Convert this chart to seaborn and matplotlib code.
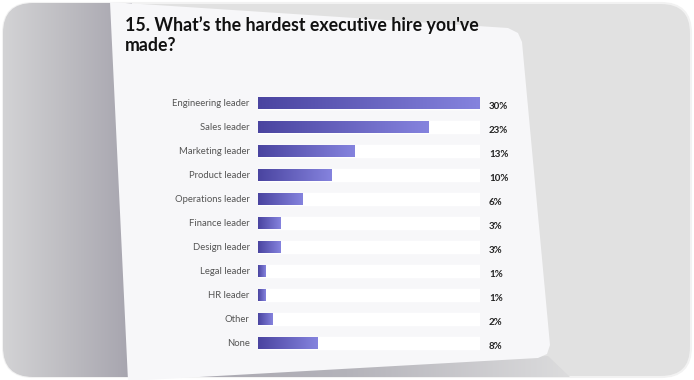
import matplotlib
matplotlib.use('Agg')
import matplotlib.pyplot as plt
import seaborn as sns
import pandas as pd
import numpy as np
from matplotlib.patches import Polygon, FancyBboxPatch
from matplotlib.colors import LinearSegmentedColormap

# Survey answers
categories = ['Engineering leader', 'Sales leader', 'Marketing leader', 'Product leader',
              'Operations leader', 'Finance leader', 'Design leader', 'Legal leader',
              'HR leader', 'Other', 'None']
values = [30, 23, 13, 10, 6, 3, 3, 1, 1, 2, 8]
value_labels = ['30%', '23%', '13%', '10%', '6%', '3%', '3%', '1%', '1%', '2%', '8%']
title_lines = ["15. What\u2019s the hardest executive hire you've", "made?"]

df = pd.DataFrame({'category': categories, 'value': values})
df['track'] = max(values)

sns.set_theme(style='white')
plt.rcParams['font.family'] = ['Lato', 'DejaVu Sans']

W, H = 694, 380
fig = plt.figure(figsize=(W / 100, H / 100), dpi=100)
fig.patch.set_facecolor('white')

# background card scene in pixel coordinates
bg = fig.add_axes([0, 0, 1, 1])
bg.set_xlim(0, W)
bg.set_ylim(H, 0)
bg.axis('off')

frame = FancyBboxPatch((3, 3), W - 6, H - 6, boxstyle='round,pad=0,rounding_size=30',
                       facecolor='#e1e1e1', edgecolor='#f2f2f2', lw=1.5, zorder=1)
bg.add_patch(frame)

grad = np.linspace(0, 1, 256).reshape(1, -1)

# shadow left of the card
shade = LinearSegmentedColormap.from_list('shade', ['#d3d3d5', '#bdbcc1', '#a6a4ae'])
im = bg.imshow(grad, extent=[3, 132, H - 3, 3], cmap=shade, aspect='auto', zorder=2)
im.set_clip_path(frame)

# shadow below the card
wedge = Polygon([(125, 377), (548, 356), (570, 377)], closed=True, transform=bg.transData)
wedge_cmap = LinearSegmentedColormap.from_list('w', ['#a6a4ae', '#b4b3ba', '#dcdcdd'])
im3 = bg.imshow(grad, extent=[125, 570, H, 355], cmap=wedge_cmap, aspect='auto', zorder=2)
im3.set_clip_path(wedge)
bg.set_xlim(0, W)
bg.set_ylim(H, 0)

card = Polygon([(110, 2), (508, 28), (518, 33), (522, 42), (550, 345), (547, 354),
                (538, 358), (128, 381), (128, 381)], closed=True,
               facecolor='#f7f7f9', edgecolor='none', zorder=3)
bg.add_patch(card)
bg.text(125, 31, title_lines[0], fontsize=12.8, fontweight='bold', color='#111111',
        va='baseline', ha='left', zorder=4)
bg.text(125, 51, title_lines[1], fontsize=12.8, fontweight='bold', color='#111111',
        va='baseline', ha='left', zorder=4)

# bar chart
left, right = 258, 480
top, bottom = 91, 355
ax = fig.add_axes([left / W, 1 - bottom / H, (right - left) / W, (bottom - top) / H])
ax.patch.set_alpha(0)
sns.barplot(data=df, x='track', y='category', color='white', width=0.52, ax=ax)
n_track = len(ax.patches)
sns.barplot(data=df, x='value', y='category', color='#5c56b8', width=0.52, ax=ax)
ax.set_xlim(0, max(values))
ylim = ax.get_ylim()

bar_cmap = LinearSegmentedColormap.from_list('bar', ['#4a44a0', '#8583de'])
for p in ax.patches[n_track:]:
    x0, y0 = p.get_x(), p.get_y()
    w, h = p.get_width(), p.get_height()
    g = ax.imshow(grad, extent=[x0, x0 + w, y0 + h, y0], cmap=bar_cmap,
                  aspect='auto', zorder=3)
    g.set_clip_path(p)
    p.set_facecolor('none')

ax.set_xlim(0, max(values))
ax.set_ylim(ylim)

for i, lab in enumerate(value_labels):
    ax.text(max(values) * 1.04, i + 0.15, lab, fontsize=7, fontweight='bold',
            color='#222222', va='center', ha='left')

ax.set_xlabel('')
ax.set_ylabel('')
ax.set_xticks([])
ax.tick_params(axis='y', length=0, pad=6, labelsize=6.8, labelcolor='#555555')
sns.despine(ax=ax, left=True, bottom=True)

fig.savefig('out.png', dpi=100)
